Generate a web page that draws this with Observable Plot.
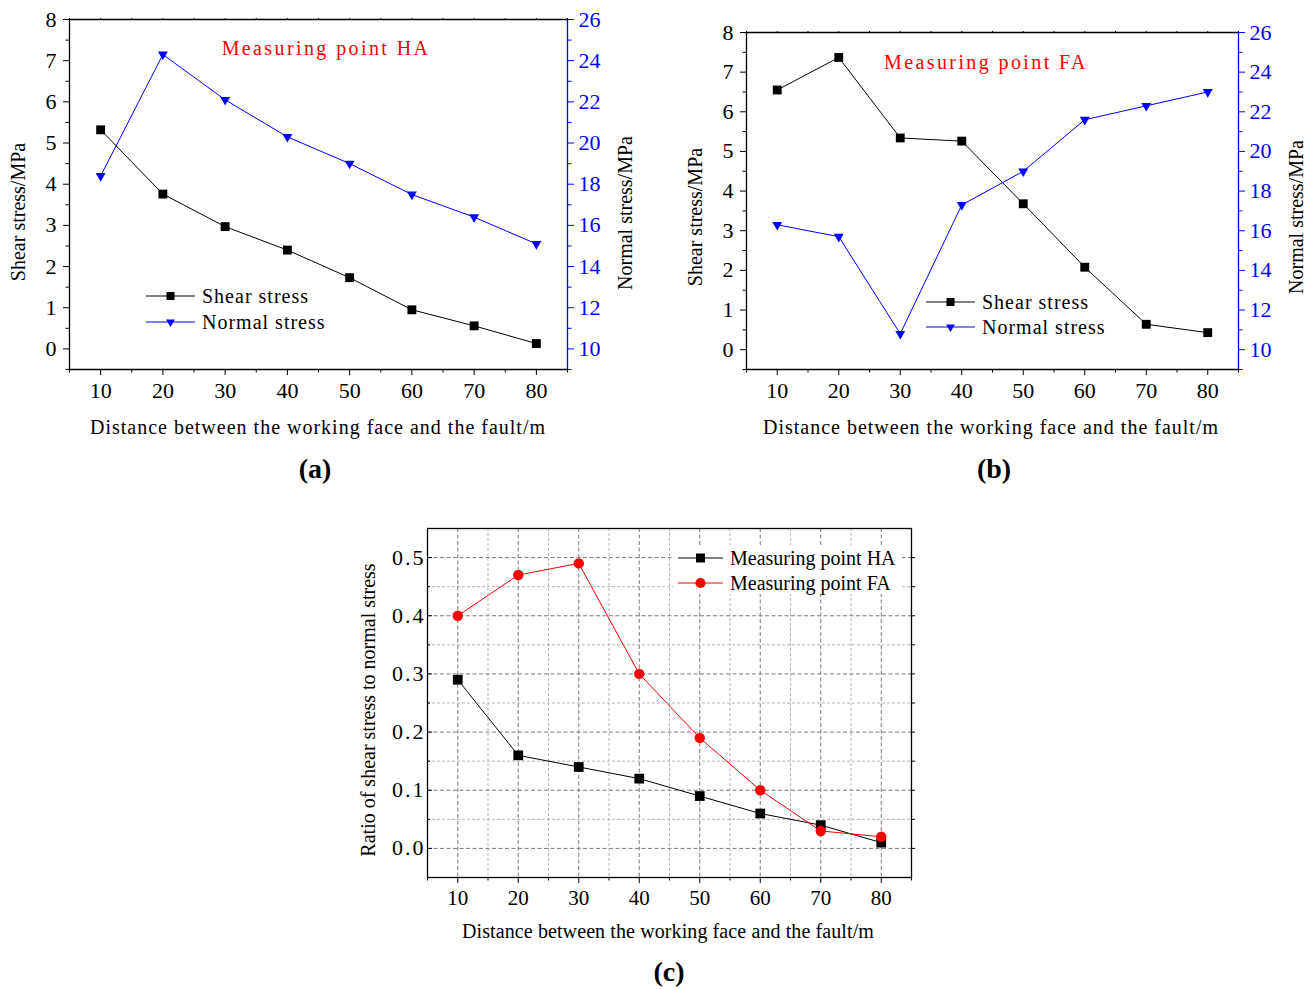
<!DOCTYPE html>
<html>
<head>
<meta charset="utf-8">
<script src="https://cdn.jsdelivr.net/npm/d3@7"></script>
<script src="https://cdn.jsdelivr.net/npm/@observablehq/plot@0.6"></script>
<style>
  html, body { margin: 0; padding: 0; background: #fff; }
  body { width: 1314px; height: 989px; position: relative; overflow: hidden;
         font-family: "Liberation Serif", "Times New Roman", serif; }
  .panel { position: absolute; }
  .panel svg { position: absolute; left: 0; top: 0; overflow: visible; }
  #overlay { position: absolute; left: 0; top: 0; pointer-events: none; }
</style>
</head>
<body>
<script>
// ---------------- data ----------------
const distance = [10, 20, 30, 40, 50, 60, 70, 80];
const shearHA  = [5.32, 3.76, 2.97, 2.40, 1.73, 0.95, 0.56, 0.13];
const normalHA = [18.4, 24.3, 22.1, 20.3, 19.0, 17.5, 16.4, 15.1];
const shearFA  = [6.55, 7.37, 5.34, 5.26, 3.68, 2.08, 0.64, 0.43];
const normalFA = [16.3, 15.7, 10.8, 17.3, 19.0, 21.6, 22.3, 23.0];
const ratioHA  = [0.29, 0.16, 0.14, 0.12, 0.09, 0.06, 0.04, 0.01];
const ratioFA  = [0.40, 0.47, 0.49, 0.30, 0.19, 0.10, 0.03, 0.02];

const xTicks      = [10, 20, 30, 40, 50, 60, 70, 80];
const xMinor      = [5, 15, 25, 35, 45, 55, 65, 75, 85];
const shearTicks  = [0, 1, 2, 3, 4, 5, 6, 7, 8];
const shearMinor  = [-0.5, 0.5, 1.5, 2.5, 3.5, 4.5, 5.5, 6.5, 7.5];
const normalTicks = [10, 12, 14, 16, 18, 20, 22, 24, 26];
const normalMinor = [9, 11, 13, 15, 17, 19, 21, 23, 25];
const ratioTicks  = [0.0, 0.1, 0.2, 0.3, 0.4, 0.5];
const ratioMinor  = [0.05, 0.15, 0.25, 0.35, 0.45];

const xTitle = "Distance between the working face and the fault/m";
const FONT = '"Liberation Serif", "Times New Roman", serif';

function stressRows(shear, normal) {
  return distance.map((d, i) => ({distance: d, shear: shear[i], normal: normal[i]}));
}
function ratioRows(ha, fa) {
  return distance.map((d, i) => ({distance: d, ha: ha[i], fa: fa[i]}));
}
const none = () => "";

// ---------------- dual-axis panel ----------------
function dualPanel({left, top, width, height, mL, mR, mT, mB, shear, normal}) {
  const wrap = document.createElement("div");
  wrap.className = "panel";
  Object.assign(wrap.style, {left: left + "px", top: top + "px", width: width + "px", height: height + "px"});
  const data = stressRows(shear, normal);
  const common = {
    width, height, marginLeft: mL, marginRight: mR, marginTop: mT, marginBottom: mB,
    style: {background: "transparent", fontFamily: FONT, fontSize: "22px", overflow: "visible"}
  };
  const lp = Plot.plot({
    ...common,
    x: {domain: [5, 85], label: null},
    y: {domain: [-0.5, 8], label: null},
    marks: [
      Plot.ruleX([5], {stroke: "black", strokeWidth: 1.3}),
      Plot.ruleY([8], {stroke: "black", strokeWidth: 1.3}),
      Plot.ruleY([-0.5], {stroke: "black", strokeWidth: 1.3}),
      Plot.axisX(xTicks, {anchor: "bottom", tickSize: 6, tickPadding: 7, fontSize: 22, label: null}),
      Plot.axisX(xMinor, {anchor: "bottom", tickSize: 3.5, tickFormat: none, label: null}),
      Plot.axisX(xTicks.concat(xMinor), {anchor: "top", tickSize: 2, tickFormat: none, label: null}),
      Plot.axisY(shearTicks, {anchor: "left", tickSize: 6, tickPadding: 7, fontSize: 22, label: null}),
      Plot.axisY(shearMinor, {anchor: "left", tickSize: 3.5, tickFormat: none, label: null}),
      Plot.line(data, {x: "distance", y: "shear", stroke: "black", strokeWidth: 1}),
      Plot.dot(data, {x: "distance", y: "shear", symbol: "square", fill: "black", stroke: "none", r: 5})
    ]
  });
  const rp = Plot.plot({
    ...common,
    x: {domain: [5, 85], axis: null, label: null},
    y: {domain: [9, 26], label: null},
    marks: [
      Plot.ruleX([85], {stroke: "blue", strokeWidth: 1.3}),
      Plot.axisY(normalTicks, {anchor: "right", tickSize: 6, tickPadding: 5, fontSize: 22, color: "blue", label: null}),
      Plot.axisY(normalMinor, {anchor: "right", tickSize: 3.5, tickFormat: none, color: "blue", label: null}),
      Plot.line(data, {x: "distance", y: "normal", stroke: "blue", strokeWidth: 1}),
      Plot.dot(data, {x: "distance", y: "normal", symbol: "triangle", rotate: 180, fill: "blue", stroke: "none", r: 3.7})
    ]
  });
  wrap.appendChild(lp);
  wrap.appendChild(rp);
  document.body.appendChild(wrap);
}

dualPanel({left: 0, top: 0, width: 657, height: 400, mL: 69, mR: 90, mT: 19, mB: 31, shear: shearHA, normal: normalHA});
dualPanel({left: 657, top: 0, width: 657, height: 400, mL: 89, mR: 76, mT: 32, mB: 31, shear: shearFA, normal: normalFA});

// ---------------- ratio panel ----------------
(function () {
  const wrap = document.createElement("div");
  wrap.className = "panel";
  Object.assign(wrap.style, {left: "340px", top: "500px", width: "600px", height: "420px"});
  const data = ratioRows(ratioHA, ratioFA);
  const p = Plot.plot({
    width: 600, height: 420, marginLeft: 87, marginRight: 29, marginTop: 28, marginBottom: 43,
    style: {background: "transparent", fontFamily: FONT, fontSize: "21px", overflow: "visible"},
    x: {domain: [5, 85], label: null},
    y: {domain: [-0.05, 0.55], label: null},
    marks: [
      Plot.gridX(xMinor.slice(1, -1), {stroke: "#b4b4b4", strokeOpacity: 1, strokeDasharray: "3,2"}),
      Plot.gridY(ratioMinor, {stroke: "#b4b4b4", strokeOpacity: 1, strokeDasharray: "3,2"}),
      Plot.gridX(xTicks, {stroke: "#7a7a7a", strokeOpacity: 1, strokeDasharray: "4,2.5"}),
      Plot.gridY(ratioTicks, {stroke: "#7a7a7a", strokeOpacity: 1, strokeDasharray: "4,2.5"}),
      Plot.frame({stroke: "black", strokeWidth: 1.3}),
      Plot.axisX(xTicks, {anchor: "bottom", tickSize: 6, tickPadding: 7, fontSize: 21, label: null}),
      Plot.axisX(xMinor, {anchor: "bottom", tickSize: 3.5, tickFormat: none, label: null}),
      Plot.axisY(ratioTicks, {anchor: "left", tickSize: -5, tickPadding: 7, fontSize: 22, tickFormat: d3.format(".1f"), label: null}),
      Plot.axisY(ratioMinor, {anchor: "left", tickSize: -3, tickFormat: none, label: null}),
      Plot.axisY(ratioTicks.concat(ratioMinor), {anchor: "right", tickSize: 3, tickFormat: none, label: null})
    ]
  });
  wrap.appendChild(p);
  const p2 = Plot.plot({
    width: 600, height: 420, marginLeft: 87, marginRight: 29, marginTop: 28, marginBottom: 43,
    style: {background: "transparent", fontFamily: FONT, fontSize: "21px", overflow: "visible"},
    x: {domain: [5, 85], axis: null, label: null},
    y: {domain: [-0.05, 0.55], axis: null, label: null},
    marks: [
      Plot.line(data, {x: "distance", y: "ha", stroke: "black", strokeWidth: 1}),
      Plot.line(data, {x: "distance", y: "fa", stroke: "red", strokeWidth: 1}),
      Plot.dot(data, {x: "distance", y: "ha", symbol: "square", fill: "black", stroke: "none", r: 5.5}),
      Plot.dot(data, {x: "distance", y: "fa", symbol: "circle", fill: "red", stroke: "none", r: 5.2})
    ]
  });
  // widen the y tick labels a little like the original
  d3.select(p).selectAll("g").filter(function () {
    const a = this.getAttribute("aria-label") || "";
    return a.indexOf("y-axis tick label") >= 0;
  }).selectAll("text").style("letter-spacing", "2px");
  // legend background box (hides grid lines under the legend)
  const legendBg = d3.create("svg").attr("width", 600).attr("height", 420).node();
  d3.select(legendBg).append("rect").attr("x", 673 - 340).attr("y", 545 - 500)
    .attr("width", 229).attr("height", 49).attr("fill", "white");
  wrap.appendChild(legendBg);
  wrap.appendChild(p2);
  document.body.appendChild(wrap);
})();

// ---------------- titles, annotations, legends ----------------
const svg = d3.select("body").append("svg")
  .attr("id", "overlay").attr("width", 1314).attr("height", 989)
  .style("font-family", FONT);

function txt(s, x, y, {size = 20, spacing = 0, anchor = "middle", rotate = 0, color = "black", weight = "normal"} = {}) {
  const t = svg.append("text")
    .attr("x", x).attr("y", y)
    .attr("text-anchor", anchor)
    .attr("dominant-baseline", "central")
    .attr("font-size", size)
    .attr("font-weight", weight)
    .attr("fill", color)
    .style("letter-spacing", spacing + "px")
    .text(s);
  if (rotate) t.attr("transform", `rotate(${rotate},${x},${y})`);
  return t;
}

// axis titles
txt(xTitle, 318, 427, {spacing: 1});
txt(xTitle, 991, 427, {spacing: 1});
txt(xTitle, 668, 931, {spacing: 0.1});
txt("Shear stress/MPa", 18, 212, {rotate: -90});
txt("Normal stress/MPa", 625, 213, {rotate: -90});
txt("Shear stress/MPa", 695, 217, {rotate: -90});
txt("Normal stress/MPa", 1296, 217, {rotate: -90});
txt("Ratio of shear stress to normal stress", 368, 710, {rotate: -90});

// panel labels
txt("(a)", 315, 468, {size: 28, weight: "bold"});
txt("(b)", 994, 468, {size: 28, weight: "bold"});
txt("(c)", 669, 971, {size: 28, weight: "bold"});

// red annotations
txt("Measuring point HA", 326, 48, {color: "red", spacing: 2.4});
txt("Measuring point FA", 986, 62, {color: "red", spacing: 2.4});

// legends
function legendRow(x1, x2, y, color, symbol, symSize, rot, label, spacing) {
  svg.append("line").attr("x1", x1).attr("x2", x2).attr("y1", y).attr("y2", y)
    .attr("stroke", color).attr("stroke-width", 1);
  svg.append("path").attr("d", d3.symbol(symbol, symSize)())
    .attr("transform", `translate(${(x1 + x2) / 2},${y}) rotate(${rot})`)
    .attr("fill", color);
  txt(label, x2 + 7, y, {anchor: "start", spacing});
}
legendRow(146, 195, 296, "black", d3.symbolSquare, 64, 0, "Shear stress", 1);
legendRow(146, 195, 322, "blue", d3.symbolTriangle, 34, 180, "Normal stress", 1);
legendRow(926, 975, 302, "black", d3.symbolSquare, 64, 0, "Shear stress", 1);
legendRow(926, 975, 327, "blue", d3.symbolTriangle, 34, 180, "Normal stress", 1);
legendRow(678, 723, 558, "black", d3.symbolSquare, 81, 0, "Measuring point HA", 0);
legendRow(678, 723, 583, "red", d3.symbolCircle, 80, 0, "Measuring point FA", 0);
</script>
</body>
</html>
